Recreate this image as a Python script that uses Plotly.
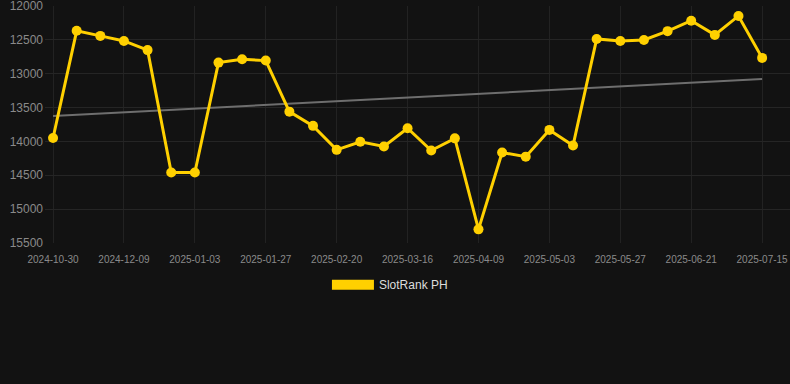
import plotly.graph_objects as go

dates = [
    "2024-10-30", "2024-11-17", "2024-11-27", "2024-12-09", "2024-12-17", "2024-12-25",
    "2025-01-03", "2025-01-11", "2025-01-19", "2025-01-27", "2025-02-04", "2025-02-12",
    "2025-02-20", "2025-02-28", "2025-03-08", "2025-03-16", "2025-03-24", "2025-04-01",
    "2025-04-09", "2025-04-17", "2025-04-25", "2025-05-03", "2025-05-11", "2025-05-19",
    "2025-05-27", "2025-06-04", "2025-06-12", "2025-06-21", "2025-06-29", "2025-07-07",
    "2025-07-15",
]
ranks = [
    13950, 12365, 12440, 12515, 12650, 14460, 14460, 12835, 12785, 12805,
    13560, 13770, 14125, 14005, 14075, 13805, 14135, 13955, 15300, 14165,
    14225, 13830, 14060, 12485, 12515, 12500, 12370, 12215, 12425, 12145,
    12765,
]
trend_dates = [dates[0], dates[-1]]
trend_values = [13625, 13078]
tick_labels = dates[::3]
y_ticks = [12000, 12500, 13000, 13500, 14000, 14500, 15000, 15500]

yellow = "#FFD000"
fig = go.Figure()
fig.add_trace(go.Scatter(
    x=trend_dates, y=trend_values, mode="lines",
    line=dict(color="#6e6e6e", width=2), showlegend=False, hoverinfo="skip",
))
fig.add_trace(go.Scatter(
    x=dates, y=ranks, mode="lines+markers",
    line=dict(color=yellow, width=3),
    marker=dict(color=yellow, size=10),
    showlegend=False, name="SlotRank PH",
))
fig.add_trace(go.Scatter(
    x=[None], y=[None], mode="lines", name="SlotRank PH",
    line=dict(color=yellow, width=11), showlegend=True,
))

fig.update_layout(
    width=790, height=384,
    paper_bgcolor="#121212", plot_bgcolor="#121212",
    margin=dict(l=45, r=0, t=6, b=141),
    font=dict(family="Arial, Liberation Sans, sans-serif", color="#8a8a8a"),
    xaxis=dict(
        type="category", categoryorder="array", categoryarray=dates,
        range=[-0.34, 31.18],
        tickmode="array", tickvals=tick_labels, ticktext=tick_labels,
        tickfont=dict(size=10, color="#8a8a8a"),
        showgrid=True, gridcolor="#222222", gridwidth=1,
        zeroline=False, showline=False, ticks="", ticklabelstandoff=9,
        ticklabeloverflow="allow",
    ),
    yaxis=dict(
        range=[15502, 11998],
        tickmode="array", tickvals=y_ticks,
        tickfont=dict(size=12, color="#8a8a8a"),
        showgrid=True, gridcolor="#252525", gridwidth=1,
        zeroline=False, showline=False, ticks="",
        tickformat="d", ticklabelstandoff=1,
        ticklabeloverflow="allow",
    ),
    legend=dict(
        orientation="h", x=0.463, xanchor="center", y=-0.115, yanchor="top",
        font=dict(size=12, color="#dddddd"), bgcolor="rgba(0,0,0,0)",
        itemwidth=42,
    ),
    showlegend=True,
)

fig.write_html(
    "out.html",
    config={"displayModeBar": False},
    post_script="document.body.style.margin='0';document.body.style.background='#121212';",
)
